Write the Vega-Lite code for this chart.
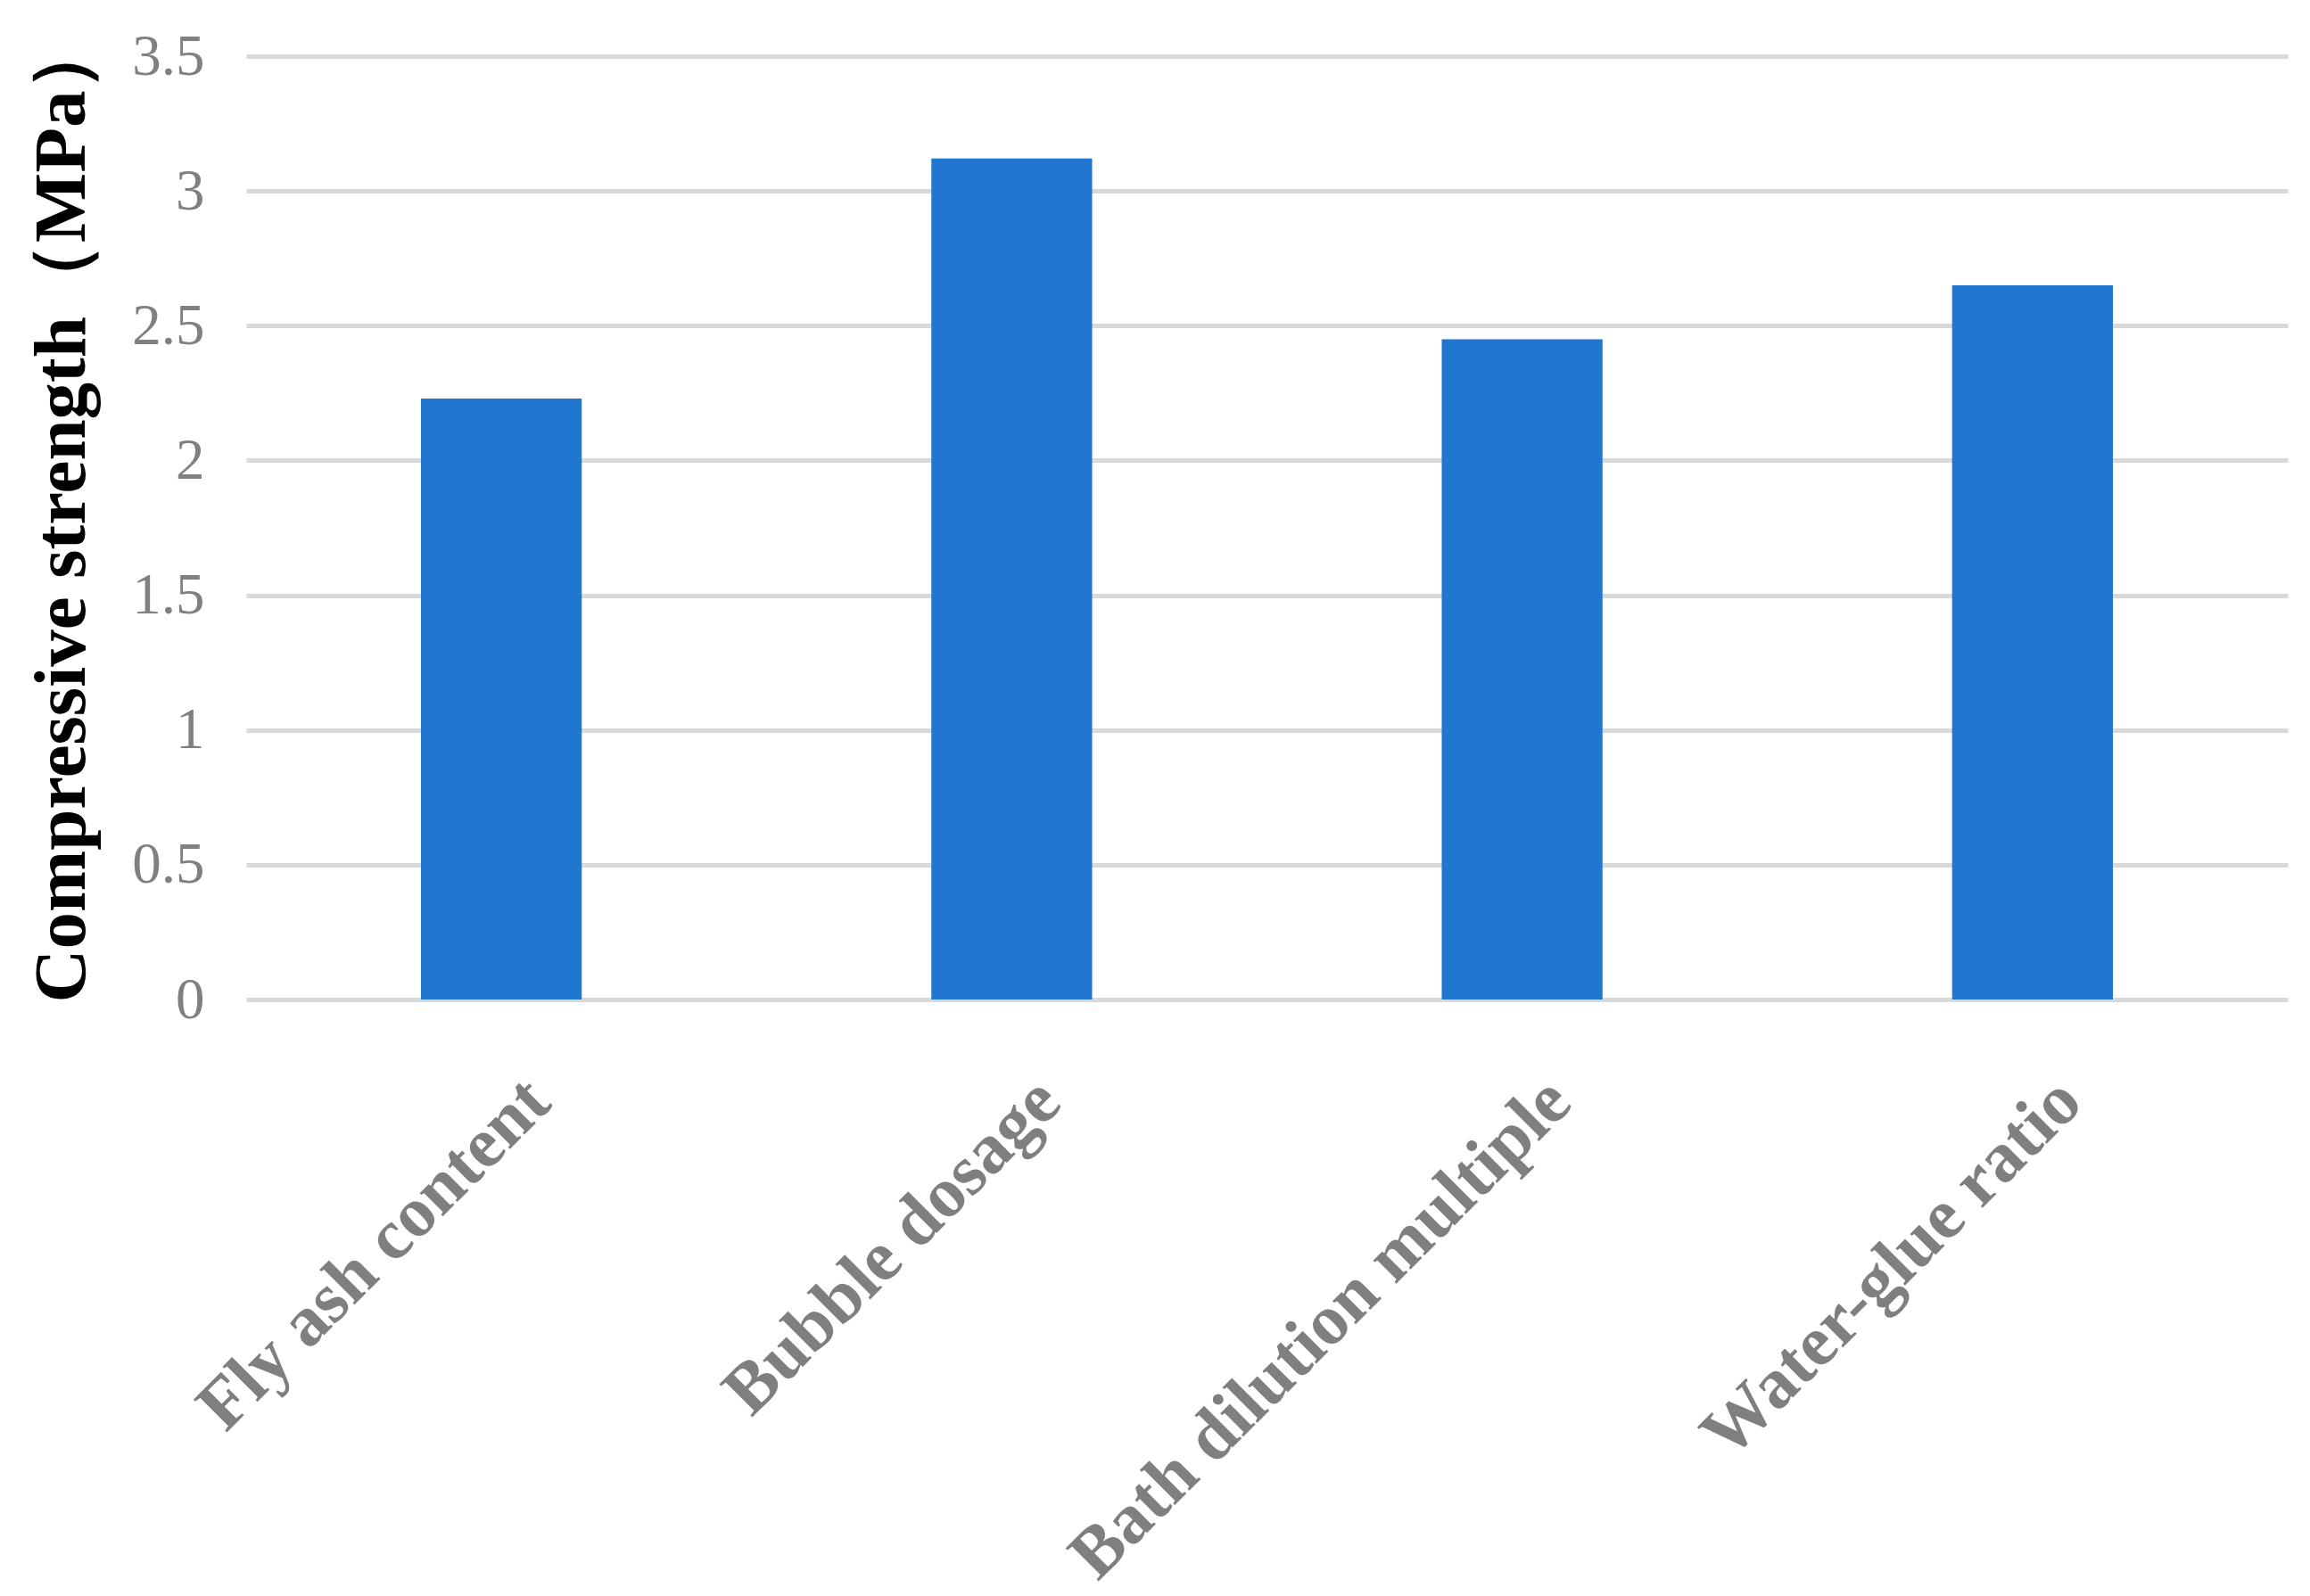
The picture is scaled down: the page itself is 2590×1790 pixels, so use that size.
{
  "$schema": "https://vega.github.io/schema/vega-lite/v6.json",
  "autosize": "none",
  "width": 2289,
  "height": 1058,
  "padding": {"left": 276, "top": 63, "right": 25, "bottom": 669},
  "background": "white",
  "data": {
    "values": [
      {"factor": "Fly ash content", "strength": 2.23},
      {"factor": "Bubble dosage", "strength": 3.12},
      {"factor": "Bath dilution multiple", "strength": 2.45},
      {"factor": "Water-glue ratio", "strength": 2.65}
    ]
  },
  "mark": {"type": "bar", "color": "#2176CF"},
  "encoding": {
    "x": {
      "field": "factor",
      "type": "nominal",
      "sort": null,
      "scale": {"paddingInner": 0.685, "paddingOuter": 0.3425},
      "axis": {
        "title": null,
        "labelAngle": -45,
        "labelFont": "Liberation Serif",
        "labelFontWeight": "bold",
        "labelFontSize": 80,
        "labelColor": "#7F7F7F",
        "labelPadding": 74,
        "labelOffset": 14,
        "labelLimit": 2000,
        "ticks": false,
        "domain": false,
        "grid": false
      }
    },
    "y": {
      "field": "strength",
      "type": "quantitative",
      "scale": {"domain": [0, 3.5], "nice": false},
      "axis": {
        "title": "Compressive strength（MPa）",
        "titleFont": "Liberation Serif",
        "titleFontWeight": "bold",
        "titleFontSize": 83,
        "titleColor": "#000000",
        "titlePadding": 36,
        "titleY": 508,
        "values": [0, 0.5, 1, 1.5, 2, 2.5, 3, 3.5],
        "format": "~g",
        "labelFont": "Liberation Serif",
        "labelFontSize": 65,
        "labelColor": "#808080",
        "labelPadding": 47,
        "ticks": false,
        "domain": false,
        "grid": true,
        "gridColor": "#D9D9D9",
        "gridWidth": 5
      }
    }
  },
  "config": {"view": {"stroke": null}}
}
